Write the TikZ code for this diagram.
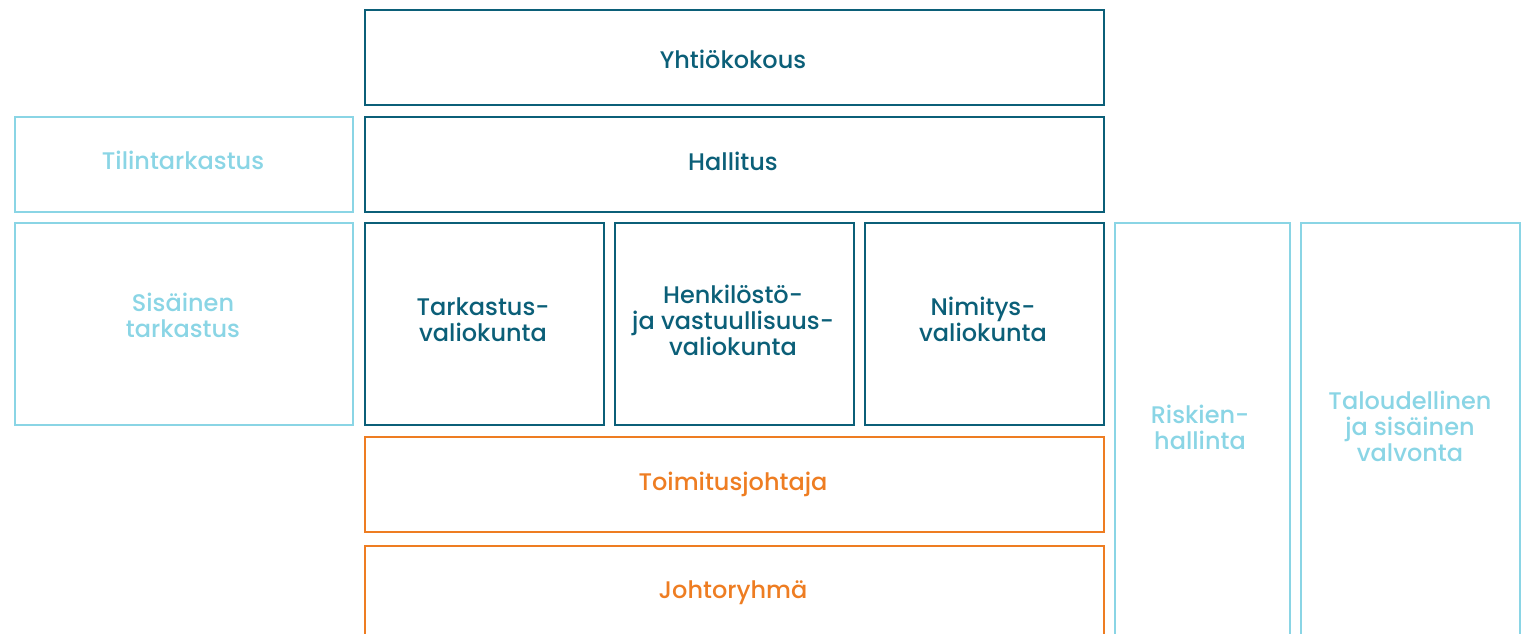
\documentclass[tikz,border=0pt]{standalone}
\usepackage{fontspec}
\setmainfont{Poppins Medium}
\definecolor{dteal}{HTML}{0B5F78}
\definecolor{lblue}{HTML}{8AD5E5}
\definecolor{orng}{HTML}{EE7D22}
\begin{document}
\begin{tikzpicture}[x=1pt,y=-1pt,
  box/.style={draw, line width=1.6pt, inner sep=0pt, anchor=north west},
  lbl/.style={font=\fontsize{24}{26}\selectfont, align=center, inner sep=0pt, anchor=center,
    execute at begin node=\strut, execute at end node=\strut},
  dk/.style={dteal}, lt/.style={lblue}, og/.style={orng}]
\useasboundingbox (0,0) rectangle (1524,634);
\clip (0,0) rectangle (1524,634);
% boxes
\node[box,dk,minimum width=739pt,minimum height=95pt] (yk) at (364,9) {};
\node[box,dk,minimum width=739pt,minimum height=95pt] (hal) at (364,116) {};
\node[box,lt,minimum width=338pt,minimum height=95pt] (tt) at (14,116) {};
\node[box,lt,minimum width=338pt,minimum height=202pt] (st) at (14,222) {};
\node[box,dk,minimum width=239pt,minimum height=202pt] (tv) at (364,222) {};
\node[box,dk,minimum width=239pt,minimum height=202pt] (hv) at (614,222) {};
\node[box,dk,minimum width=239pt,minimum height=202pt] (nv) at (864,222) {};
\node[box,lt,minimum width=175pt,minimum height=440pt] (rh) at (1114,222) {};
\node[box,lt,minimum width=219pt,minimum height=440pt] (tv2) at (1300,222) {};
\node[box,og,minimum width=739pt,minimum height=95pt] (tj) at (364,436) {};
\node[box,og,minimum width=739pt,minimum height=120pt] (jr) at (364,545) {};
% labels
\node[lbl,text=dteal] (yk-t) at (733,63.5) {Yhtiökokous};
\node[lbl,text=dteal] (hal-t) at (733,165.5) {Hallitus};
\node[lbl,text=lblue] (tt-t) at (183,164.5) {Tilintarkastus};
\node[lbl,text=lblue] (st-t) at (183,319.5) {Sisäinen\\tarkastus};
\node[lbl,text=dteal] (tv-t) at (483,323.5) {Tarkastus-\\valiokunta};
\node[lbl,text=dteal] (hv-t) at (733,324.5) {Henkilöstö-\\ja vastuullisuus-\\valiokunta};
\node[lbl,text=dteal] (nv-t) at (983,323.5) {Nimitys-\\valiokunta};
\node[lbl,text=lblue] (rh-t) at (1200,431) {Riskien-\\hallinta};
\node[lbl,text=lblue] (tv2-t) at (1410,430.5) {Taloudellinen\\ja sisäinen\\valvonta};
\node[lbl,text=orng] (tj-t) at (733,485.5) {Toimitusjohtaja};
\node[lbl,text=orng] (jr-t) at (733,593.5) {Johtoryhmä};
\end{tikzpicture}
\end{document}
